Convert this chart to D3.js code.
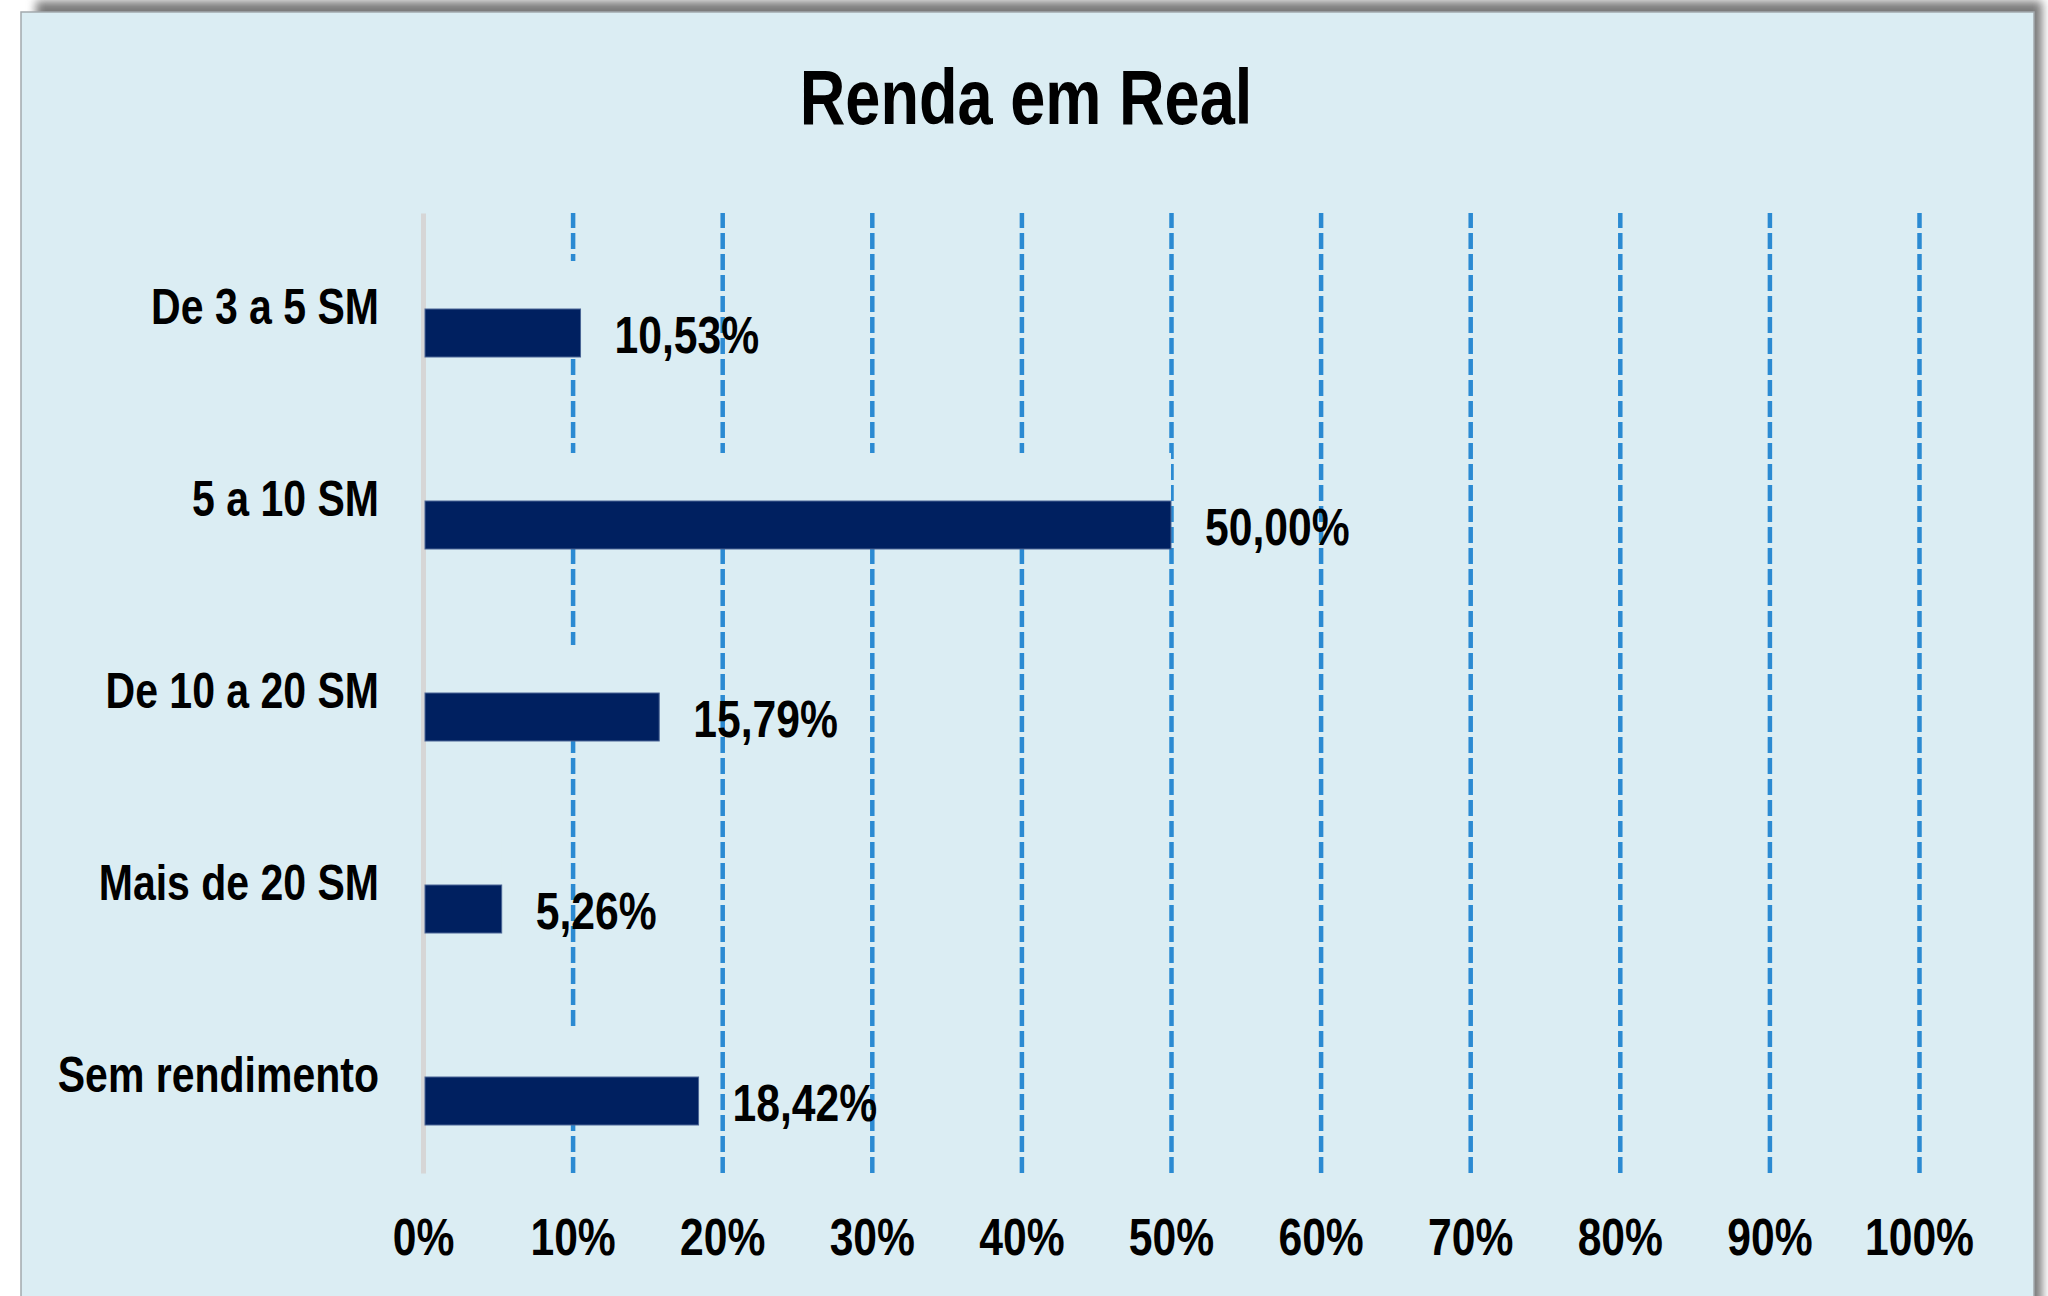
<!DOCTYPE html>
<html>
<head>
<meta charset="utf-8">
<script src="https://cdn.jsdelivr.net/npm/d3@7"></script>
<style>
  body { margin: 0; background: #ffffff; }
  text { font-family: "Liberation Sans", Arial, sans-serif; font-weight: bold; fill: #000; }
</style>
</head>
<body>
<div class="flex-container"></div>
<script>
var width = 2048;
var height = 1296;
var narrow = 0.82;   // Arial Narrow look: squeeze Liberation Sans horizontally

// data
var categories = ["De 3 a 5 SM", "5 a 10 SM", "De 10 a 20 SM", "Mais de 20 SM", "Sem rendimento"];
var values = [10.53, 50.00, 15.79, 5.26, 18.42];
var ticks = [0, 10, 20, 30, 40, 50, 60, 70, 80, 90, 100];
var series = ["fundo", "valor"];   // first series is painted in the background colour

var bg = "#dbedf3";
var barColor = "#002060";
var gridColor = "#2b8ad2";

var margin = { "top": 213,
               "bottom": 123,
               "left": 423,
               "right": 129 };

var plotW = width - margin.left - margin.right;
var plotH = height - margin.top - margin.bottom;

var svg = d3.select(".flex-container")
              .append("svg")
              .attr("width", width)
              .attr("height", height)
              .style("display", "block");

// shadow behind the panel
var defs = svg.append("defs");
defs.append("filter")
      .attr("id", "blur")
      .attr("x", "-10%").attr("y", "-10%")
      .attr("width", "120%").attr("height", "120%")
    .append("feGaussianBlur")
      .attr("stdDeviation", 5);

svg.append("rect")
    .attr("x", 36).attr("y", 1)
    .attr("width", 2006).attr("height", 1320)
    .attr("fill", "#7a7a7a")
    .attr("filter", "url(#blur)");

svg.append("rect")
    .attr("x", 21).attr("y", 12)
    .attr("width", 2013).attr("height", 1300)
    .attr("fill", bg)
    .attr("stroke", "#a3a9ad")
    .attr("stroke-width", 1.5);

svg.append("text")
    .attr("transform", "translate(1026,124) scale(" + narrow + ",1)")
    .attr("text-anchor", "middle")
    .style("font-size", "77px")
    .text("Renda em Real");

var g = svg.append("g")
            .attr("transform", "translate(" + margin.left + "," + margin.top + ")");

var scaleX = d3.scaleLinear().domain([0, 100]).range([0, plotW]);
var scaleY = d3.scaleBand().domain(categories).range([0, plotH]);
var scaleSub = d3.scaleBand().domain(series).range([0, scaleY.bandwidth()])
                  .paddingInner(0).paddingOuter(1);

// dashed gridlines
var xAxis = d3.axisBottom(scaleX)
               .tickValues(ticks)
               .tickSizeInner(-plotH)
               .tickSizeOuter(0)
               .tickFormat(function(d) { return d + "%"; });

var axisG = g.append("g")
              .attr("transform", "translate(0," + plotH + ")")
              .call(xAxis);

axisG.select(".domain").remove();
axisG.selectAll(".tick line")
      .attr("stroke", function(d) { return d === 0 ? "none" : gridColor; })
      .attr("stroke-width", 4.5)
      .attr("stroke-dasharray", "16,5");
axisG.selectAll(".tick text")
      .attr("dy", null)
      .attr("y", null)
      .attr("transform", "translate(0," + (1255 - margin.top - plotH) + ") scale(" + narrow + ",1)")
      .style("font-size", "52px");

// background-coloured series that hides the gridlines
g.selectAll(".fundo")
  .data(values)
  .enter()
  .append("rect")
  .attr("class", "fundo")
  .attr("x", scaleX(0))
  .attr("y", function(d, i) { return scaleY(categories[i]) + scaleSub("fundo"); })
  .attr("width", function(d) { return scaleX(d) - scaleX(0); })
  .attr("height", scaleSub.bandwidth())
  .attr("fill", bg);

// vertical axis line + category labels
var yAxis = d3.axisLeft(scaleY)
               .tickSize(0);

var yAxisG = g.append("g").call(yAxis);
yAxisG.select(".domain")
       .attr("stroke", "#d6d6d6")
       .attr("stroke-width", 5);
yAxisG.selectAll(".tick text")
       .attr("x", null)
       .attr("dy", "0.3em")
       .attr("transform", "translate(-44,0) scale(" + narrow + ",1)")
       .style("font-size", "50px");

g.selectAll(".bar")
  .data(values)
  .enter()
  .append("rect")
  .attr("class", "bar")
  .attr("x", scaleX(0) + 2)
  .attr("y", function(d, i) { return scaleY(categories[i]) + scaleSub("valor"); })
  .attr("width", function(d) { return scaleX(d) - scaleX(0) - 2; })
  .attr("height", scaleSub.bandwidth())
  .attr("fill", barColor)
  .attr("stroke", "#4a6595")
  .attr("stroke-width", 1);

var formatNum = function(d) { return d.toFixed(2).replace(".", ",") + "%"; };

g.selectAll(".label")
  .data(values)
  .enter()
  .append("text")
  .attr("class", "label")
  .attr("transform", function(d, i) {
    var ly = scaleY(categories[i]) + scaleSub("valor") + scaleSub.bandwidth() / 2;
    return "translate(" + (scaleX(d) + 34) + "," + ly + ") scale(" + narrow + ",1)";
  })
  .attr("dy", "0.38em")
  .style("font-size", "52px")
  .text(formatNum);
</script>
</body>
</html>
